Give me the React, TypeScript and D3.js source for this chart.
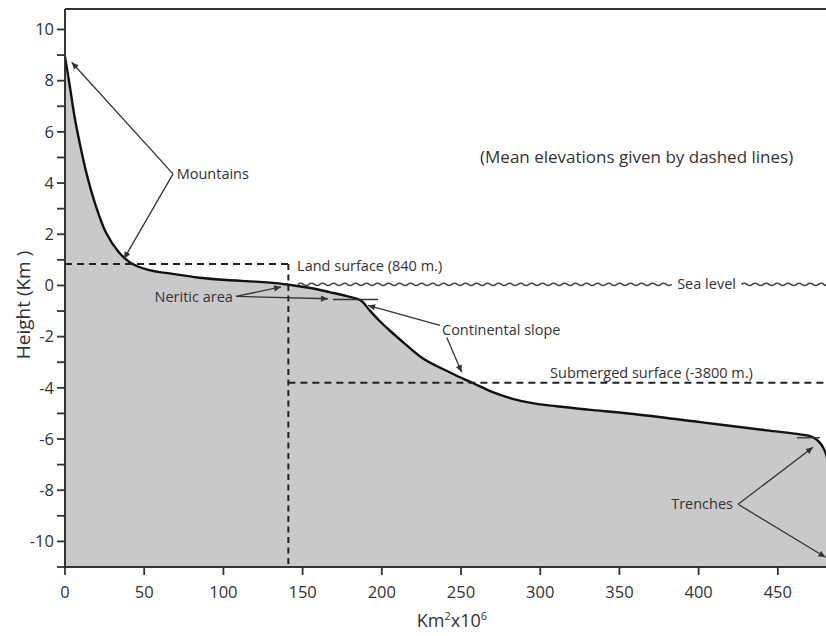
import React from 'react';
import * as d3 from 'd3';

// Hypsographic curve: cumulative area (Km² x 10^6) vs height (Km)
const areaKm: number[] = [0, 3, 6, 9.5, 13.7, 19, 26, 34, 41, 52, 68, 85, 102, 120, 136, 142, 155, 167, 178, 187, 192, 198, 205, 215, 226, 243, 258, 270, 282, 295, 310, 330, 359, 401, 443, 464, 470, 474, 477, 479, 480.5, 482, 484];
const heightKm: number[] = [8.95, 7.8, 6.6, 5.5, 4.35, 3.2, 2.05, 1.3, 0.9, 0.62, 0.45, 0.3, 0.21, 0.15, 0.07, 0.02, -0.1, -0.26, -0.42, -0.6, -0.95, -1.35, -1.76, -2.3, -2.85, -3.4, -3.83, -4.17, -4.42, -4.6, -4.72, -4.85, -5.02, -5.34, -5.66, -5.82, -5.88, -6.0, -6.18, -6.38, -6.6, -7.2, -8.5];

const xTickValues: number[] = [0, 50, 100, 150, 200, 250, 300, 350, 400, 450];
const yTickLabels: number[] = [-10, -8, -6, -4, -2, 0, 2, 4, 6, 8, 10];
const yTickAll: number[] = [-11, -10, -9, -8, -7, -6, -5, -4, -3, -2, -1, 0, 1, 2, 3, 4, 5, 6, 7, 8, 9, 10];

const landMean = 0.84;
const submergedMean = -3.8;
const landArea = 141;

const W = 826;
const H = 636;
const left = 65;
const right = 826;
const top = 9;
const bottom = 567;

const FONT = '"Open Sans", "Noto Sans", sans-serif';
const INK = '#333';

export default function App() {
  const x = d3.scaleLinear().domain([0, 480.4]).range([left, right]);
  const y = d3.scaleLinear().domain([-11, 10.8]).range([bottom, top]);

  const pts: [number, number][] = areaKm.map((a, i) => [a, heightKm[i]]);
  const curve = d3.curveCatmullRom.alpha(0.5);
  const line = d3.line<[number, number]>().x(d => x(d[0])).y(d => y(d[1])).curve(curve);
  const area = d3.area<[number, number]>().x(d => x(d[0])).y0(y(-11)).y1(d => y(d[1])).curve(curve);

  // decorative wavy "sea level" line
  const wave = (x0: number, x1: number, yy: number) => {
    const p = d3.path();
    const period = 11;
    const amp = 2.2;
    p.moveTo(x0, yy);
    let cx = x0;
    let up = true;
    while (cx < x1) {
      const nx = Math.min(cx + period / 2, x1);
      p.quadraticCurveTo((cx + nx) / 2, yy + (up ? -amp : amp), nx, yy);
      up = !up;
      cx = nx;
    }
    return p.toString();
  };

  const arrow = (x1: number, y1: number, x2: number, y2: number, key: string) => (
    <line key={key} x1={x(x1)} y1={y(y1)} x2={x(x2)} y2={y(y2)} stroke={INK} strokeWidth={1.3} markerEnd="url(#ah)" />
  );
  const plain = (x1: number, y1: number, x2: number, y2: number, key: string) => (
    <line key={key} x1={x(x1)} y1={y(y1)} x2={x(x2)} y2={y(y2)} stroke={INK} strokeWidth={1.3} />
  );

  const annFont = 14.5;

  return (
    <svg width={W} height={H} style={{ position: 'absolute', left: 0, top: 0, background: '#fff' }} fontFamily={FONT}>
      <defs>
        <clipPath id="plot">
          <rect x={left} y={top} width={right - left} height={bottom - top} />
        </clipPath>
        <marker id="ah" viewBox="0 0 10 10" refX="10" refY="5" markerWidth="9" markerHeight="7" markerUnits="userSpaceOnUse" orient="auto">
          <path d="M0,0.5 L10,5 L0,9.5 z" fill={INK} />
        </marker>
      </defs>

      <g clipPath="url(#plot)">
        <path d={area(pts) || ''} fill="#c9c9cb" />
        <path d={line(pts) || ''} fill="none" stroke="#111" strokeWidth={2.4} />
      </g>

      {/* mean elevation dashed lines */}
      <line x1={x(0)} x2={x(landArea)} y1={y(landMean)} y2={y(landMean)} stroke="#222" strokeWidth={2} strokeDasharray="7,5" />
      <line x1={x(landArea)} x2={x(landArea)} y1={y(landMean)} y2={y(-11)} stroke="#222" strokeWidth={2} strokeDasharray="6,4.5" />
      <line x1={x(landArea)} x2={right} y1={y(submergedMean)} y2={y(submergedMean)} stroke="#222" strokeWidth={2} strokeDasharray="7,5" />

      {/* sea level */}
      <path d={wave(x(147), x(383), y(0.04))} fill="none" stroke="#444" strokeWidth={1.5} />
      <path d={wave(x(427), right, y(0.04))} fill="none" stroke="#444" strokeWidth={1.5} />
      <text x={x(405)} y={y(0.04)} dy="0.35em" textAnchor="middle" fontSize={annFont} fill={INK}>Sea level</text>

      {/* short edge markers */}
      {plain(169.2, -0.55, 197.6, -0.55, 'shelf')}
      {plain(462, -5.95, 476.6, -5.95, 'trench')}

      {/* axes frame */}
      <line x1={left} x2={left} y1={top} y2={bottom} stroke={INK} strokeWidth={2} />
      <line x1={left} x2={right} y1={bottom} y2={bottom} stroke={INK} strokeWidth={2} />
      <line x1={left} x2={right} y1={top} y2={top} stroke={INK} strokeWidth={2} />

      {yTickAll.map(v => (
        <line key={'yt' + v} x1={left - 8} x2={left} y1={y(v)} y2={y(v)} stroke={INK} strokeWidth={1.8} />
      ))}
      {yTickLabels.map(v => (
        <text key={'yl' + v} x={left - 11} y={y(v)} dy="0.35em" textAnchor="end" fontSize={16.5} fill={INK}>{v}</text>
      ))}
      {xTickValues.map(v => (
        <g key={'xt' + v}>
          <line x1={x(v)} x2={x(v)} y1={bottom} y2={bottom + 8} stroke={INK} strokeWidth={1.8} />
          <text x={x(v)} y={bottom + 25} dy="0.35em" textAnchor="middle" fontSize={16.5} fill={INK}>{v}</text>
        </g>
      ))}

      <text transform={`translate(23, ${305}) rotate(-90)`} textAnchor="middle" dy="0.35em" fontSize={19} fill={INK}>Height (Km )</text>
      <text x={452} y={621} dy="0.35em" textAnchor="middle" fontSize={18} fill={INK}>
        Km<tspan fontSize={11} dy="-7">2</tspan><tspan dy="7">x10</tspan><tspan fontSize={11} dy="-7">6</tspan>
      </text>

      {/* annotations */}
      <text x={x(262)} y={y(5.0)} dy="0.35em" fontSize={17} fill={INK}>(Mean elevations given by dashed lines)</text>

      <text x={x(70.5)} y={y(4.36)} dy="0.35em" fontSize={annFont} fill={INK}>Mountains</text>
      {arrow(68.2, 4.36, 4.2, 8.72, 'm1')}
      {arrow(68.2, 4.36, 37.2, 1.04, 'm2')}

      <text x={x(106)} y={y(-0.45)} dy="0.35em" textAnchor="end" fontSize={annFont} fill={INK}>Neritic area</text>
      {arrow(108, -0.43, 136.4, -0.06, 'n1')}
      {arrow(108, -0.43, 166, -0.52, 'n2')}

      <text x={x(146.5)} y={y(0.78)} dy="0.35em" fontSize={annFont} fill={INK}>Land surface (840 m.)</text>

      <text x={x(238)} y={y(-1.72)} dy="0.35em" fontSize={annFont} fill={INK}>Continental slope</text>
      {arrow(236.7, -1.56, 191.3, -0.78, 'c1')}
      {arrow(241, -2.03, 250.4, -3.39, 'c2')}

      <text x={x(306.2)} y={y(-3.4)} dy="0.35em" fontSize={annFont} fill={INK}>Submerged surface (-3800 m.)</text>

      <text x={x(421.7)} y={y(-8.55)} dy="0.35em" textAnchor="end" fontSize={annFont} fill={INK}>Trenches</text>
      {arrow(424.9, -8.55, 472.2, -6.32, 't1')}
      {arrow(424.9, -8.55, 480.1, -10.62, 't2')}
    </svg>
  );
}
